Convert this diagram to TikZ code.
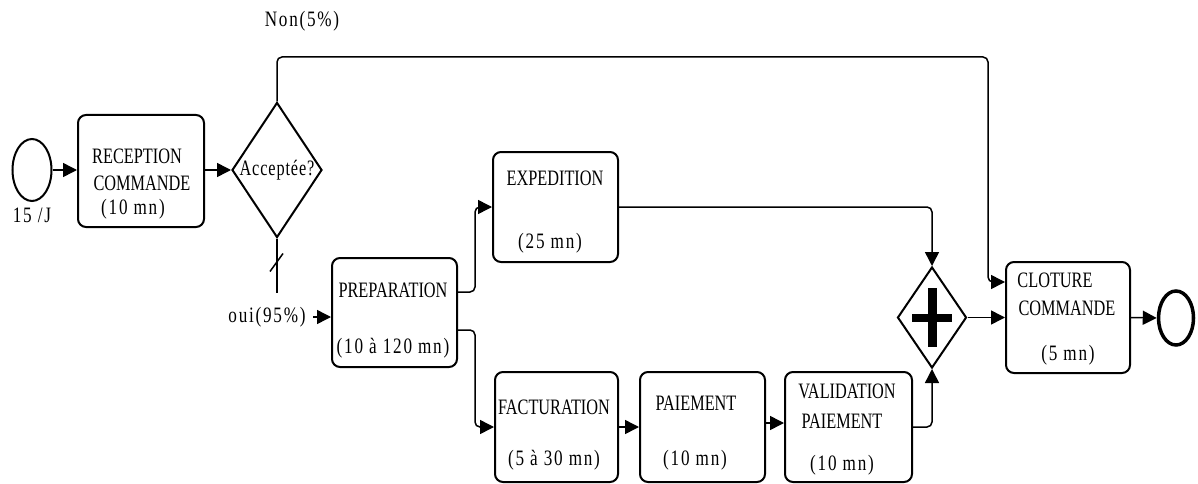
\documentclass[tikz,border=0pt]{standalone}
\usepackage{fontspec}
\usetikzlibrary{shapes.geometric,arrows.meta,calc}
% condensed serif faces for the activity labels
\newfontfamily\capsf[FakeStretch=0.74]{Liberation Serif}
\newfontfamily\lowf[FakeStretch=0.78,LetterSpace=8]{Liberation Serif}
\newfontfamily\tightf[FakeStretch=0.74,LetterSpace=4]{Liberation Serif}
\begin{document}
\begin{tikzpicture}[x=1pt,y=-1pt,
  task/.style={draw,line width=2pt,rounded corners=8pt,inner sep=0pt},
  flow/.style={line width=1.5pt,rounded corners=5pt,-{Triangle[length=14pt,width=14pt]}},
  plain/.style={line width=1.5pt,rounded corners=5pt},
  captxt/.style={inner sep=0pt,font=\capsf\fontsize{22}{26}\selectfont},
  lowtxt/.style={inner sep=0pt,font=\lowf\fontsize{22}{26}\selectfont}]
\useasboundingbox (0,0) rectangle (1198,484);

% events
\node[ellipse,draw,line width=2pt,minimum width=39pt,minimum height=62pt,inner sep=0pt] (start) at (32,170) {};
\node[ellipse,draw,line width=3.5pt,minimum width=35pt,minimum height=54pt,inner sep=0pt] (end) at (1176,318) {};
\node[lowtxt] (freq) at (32,215) {15 /J};

% activities
\node[task,minimum width=126pt,minimum height=112pt] (rec) at (141,171) {};
\node[task,minimum width=125pt,minimum height=109pt] (prep) at (394.5,312.5) {};
\node[task,minimum width=125pt,minimum height=110pt] (exp) at (555.5,207) {};
\node[task,minimum width=123pt,minimum height=110pt] (fac) at (556.5,427) {};
\node[task,minimum width=125pt,minimum height=110pt] (pai) at (702.5,427) {};
\node[task,minimum width=127pt,minimum height=110pt] (val) at (848.5,427) {};
\node[task,minimum width=124pt,minimum height=111pt] (clo) at (1068,317.5) {};

% activity texts
\node[captxt] (rec1) at (137,156) {RECEPTION};
\node[captxt] (rec2) at (142,183) {COMMANDE};
\node[lowtxt] (rec3) at (133,209) {(10 mn)};
\node[captxt] (exp1) at (555,178) {EXPEDITION};
\node[lowtxt] (exp2) at (550,243) {(25 mn)};
\node[captxt] (prep1) at (393,290) {PREPARATION};
\node[lowtxt] (prep2) at (393,348) {(10 à 120 mn)};
\node[captxt] (fac1) at (554,407) {FACTURATION};
\node[lowtxt] (fac2) at (554,460) {(5 à 30 mn)};
\node[captxt] (pai1) at (696,403) {PAIEMENT};
\node[lowtxt] (pai2) at (695,460) {(10 mn)};
\node[captxt] (val1) at (847,391) {VALIDATION};
\node[captxt] (val2) at (842,421) {PAIEMENT};
\node[lowtxt] (val3) at (842,465) {(10 mn)};
\node[captxt] (clo1) at (1055,280) {CLOTURE};
\node[captxt] (clo2) at (1067,308) {COMMANDE};
\node[lowtxt] (clo3) at (1068,355) {(5 mn)};

% gateways
\node[diamond,draw,line width=2pt,minimum width=90pt,minimum height=135pt,inner sep=0pt] (dia) at (277,170) {};
\node[inner sep=0pt,font=\tightf\fontsize{22}{26}\selectfont] (acc) at (277,170) {Acceptée?};
\node[diamond,draw,line width=2pt,minimum width=69pt,minimum height=101pt,inner sep=0pt] (gw) at (932,317.5) {};
\fill ([shift={(-20,-4)}]gw.center) rectangle ([shift={(20,4)}]gw.center);
\fill ([shift={(-4.5,-29.5)}]gw.center) rectangle ([shift={(4.5,29.5)}]gw.center);

% labels of the outgoing flows
\node[lowtxt] (non) at (302,21) {Non(5\%)};
\node[lowtxt] (oui) at (267,317) {oui(95\%)};
\coordinate (nonR) at (988,57);
\coordinate (ouiEnd) at (277,293);
\coordinate (ouiIn) at (313,317);

% sequence flows
\draw[flow] (start.east) -- (rec.west |- start.east);
\draw[flow] (rec.east |- dia.west) -- (dia.west);
\draw[flow] (dia.north) |- (nonR) |- ([yshift=35.5pt]clo.west);
\draw[plain] (dia.south) -- (ouiEnd);
\draw[line width=1.5pt] ([shift={(-7,33)}]dia.south) -- ([shift={(6,15)}]dia.south);
\draw[flow] (ouiIn) -- (ouiIn -| prep.west);
\draw[flow] ([yshift=20.5pt]prep.east) -- ++(17,0) |- (exp.west);
\draw[flow] ([yshift=-17.5pt]prep.east) -- ++(17,0) |- (fac.west);
\draw[flow] (fac.east) -- (pai.west);
\draw[flow] ([yshift=4pt]pai.east) -- ([yshift=4pt]val.west);
\draw[flow] (exp.east) -| (gw.north);
\draw[flow] (val.east) -| (gw.south);
\draw[flow] (gw.east) -- (clo.west |- gw.east);
\draw[flow] (clo.east) -- (end.west);
\end{tikzpicture}
\end{document}
